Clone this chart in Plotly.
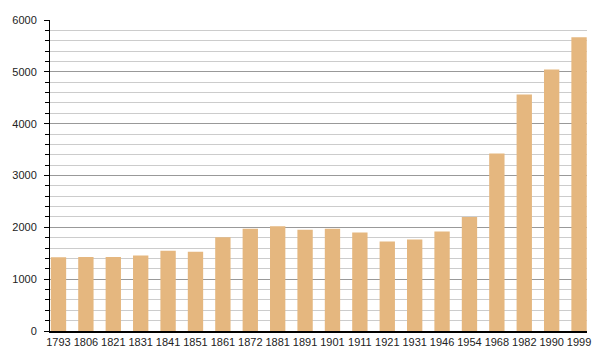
import plotly.graph_objects as go

years = ["1793", "1806", "1821", "1831", "1841", "1851", "1861", "1872", "1881", "1891",
         "1901", "1911", "1921", "1931", "1946", "1954", "1968", "1982", "1990", "1999"]
population = [1425, 1430, 1430, 1455, 1550, 1530, 1810, 1975, 2020, 1955,
              1975, 1900, 1725, 1765, 1920, 2200, 3425, 4565, 5045, 5665]

bar_color = "#E5B77F"

fig = go.Figure(go.Bar(x=years, y=population, marker=dict(color=bar_color, line=dict(width=0)),
                       width=0.56))

fig.update_layout(
    width=600, height=360,
    margin=dict(l=50, r=9, t=20, b=29),
    paper_bgcolor="white", plot_bgcolor="white",
    font=dict(family="Liberation Sans, Arial, sans-serif", size=11, color="#222"),
    showlegend=False,
    bargap=0.44,
)
fig.update_xaxes(
    type="category", range=[-0.31, 19.29],
    showline=True, linecolor="black", linewidth=1.5,
    ticks="", showgrid=False, tickfont=dict(size=11),
)
fig.update_yaxes(
    range=[0, 6000], dtick=1000,
    showline=True, linecolor="black", linewidth=1,
    ticks="outside", ticklen=5, tickcolor="black",
    showgrid=True, gridcolor="#999999", gridwidth=1,
    zeroline=False,
    ticklabelstandoff=5,
    minor=dict(dtick=200, showgrid=True, gridcolor="#CCCCCC", gridwidth=1,
               ticks="outside", ticklen=4, tickcolor="black"),
    tickfont=dict(size=11),
)

fig.write_html("out.html")
